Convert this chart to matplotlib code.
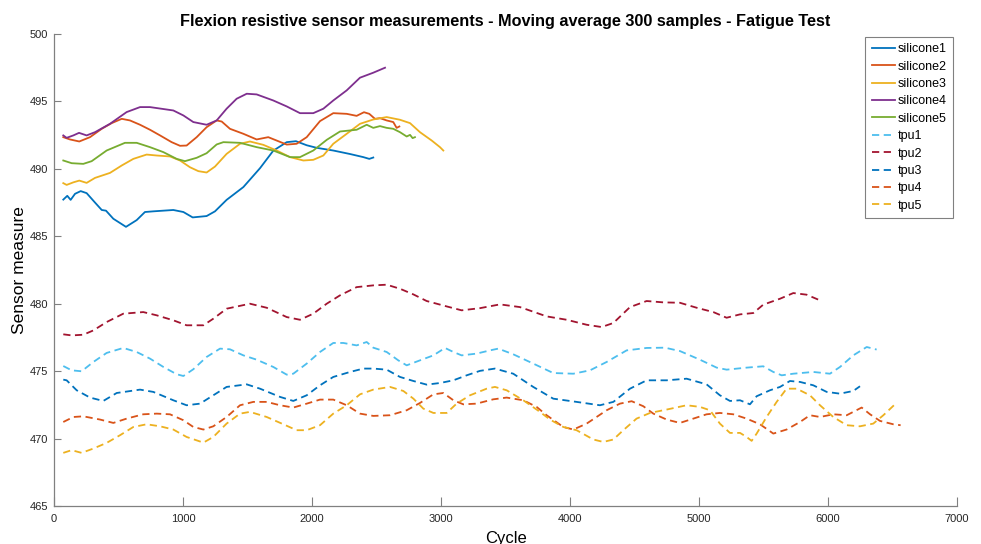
"""
Flexion resistive sensor - fatigue test, moving average of 300 samples.
Five silicone sensors (solid) and five TPU sensors (dashed).
"""

import matplotlib
matplotlib.use("Agg")
import matplotlib.pyplot as plt

# ---------------------------------------------------------------
# 1) DATA (read off the original plot)
# ---------------------------------------------------------------
silicone1_x = [72, 103, 129, 163, 207, 253, 318, 370, 403, 460, 558, 641, 705, 770, 925, 1003,
               1075, 1183, 1248, 1338, 1468, 1597, 1700, 1804, 1876, 1959, 2036, 2165, 2295,
               2398, 2444, 2475]
silicone1_y = [487.72, 488.0, 487.7, 488.15, 488.35, 488.2, 487.5, 486.95, 486.9, 486.3, 485.7,
               486.2, 486.8, 486.85, 486.95, 486.8, 486.4, 486.5, 486.85, 487.7, 488.65, 490.05,
               491.35, 491.98, 492.05, 491.75, 491.56, 491.36, 491.1, 490.87, 490.74, 490.84]

silicone2_x = [72, 124, 196, 279, 370, 447, 525, 589, 667, 744, 822, 912, 977, 1028, 1106, 1183,
               1261, 1300, 1364, 1468, 1571, 1661, 1726, 1804, 1881, 1959, 2062, 2165, 2269,
               2346, 2403, 2444, 2488, 2527, 2579, 2630, 2656, 2677]
silicone2_y = [492.35, 492.18, 492.03, 492.35, 492.97, 493.39, 493.71, 493.59, 493.27, 492.9,
               492.48, 491.98, 491.71, 491.73, 492.35, 493.09, 493.59, 493.51, 492.97, 492.6,
               492.18, 492.35, 492.1, 491.8, 491.86, 492.35, 493.54, 494.13, 494.08, 493.93,
               494.2, 494.08, 493.71, 493.76, 493.59, 493.47, 493.04, 493.14]

silicone3_x = [72, 98, 150, 196, 253, 318, 434, 525, 615, 718, 796, 899, 977, 1054, 1119, 1183,
               1248, 1338, 1442, 1519, 1623, 1726, 1830, 1933, 2010, 2088, 2165, 2269, 2372,
               2475, 2579, 2682, 2760, 2837, 2928, 2992, 3018]
silicone3_y = [488.94, 488.81, 489.0, 489.13, 488.96, 489.33, 489.7, 490.25, 490.74, 491.06,
               490.99, 490.92, 490.62, 490.12, 489.83, 489.73, 490.17, 491.11, 491.86, 492.03,
               491.78, 491.36, 490.87, 490.62, 490.67, 490.99, 491.86, 492.6, 493.34, 493.66,
               493.84, 493.64, 493.39, 492.72, 492.1, 491.61, 491.36]

silicone4_x = [72, 98, 150, 194, 253, 318, 434, 563, 667, 744, 925, 1003, 1080, 1183, 1261, 1338,
               1416, 1494, 1571, 1700, 1804, 1907, 2010, 2088, 2165, 2269, 2372, 2475, 2566]
silicone4_y = [492.48, 492.3, 492.48, 492.67, 492.48, 492.72, 493.34, 494.21, 494.58, 494.58,
               494.33, 493.96, 493.47, 493.27, 493.59, 494.46, 495.2, 495.57, 495.52, 495.07,
               494.63, 494.13, 494.13, 494.46, 495.07, 495.82, 496.76, 497.13, 497.5]

silicone5_x = [72, 137, 227, 292, 408, 550, 641, 744, 848, 951, 1015, 1106, 1183, 1261, 1313,
               1442, 1571, 1700, 1830, 1907, 2010, 2114, 2217, 2346, 2424, 2475, 2527, 2579,
               2630, 2682, 2734, 2760, 2780, 2798]
silicone5_y = [490.62, 490.42, 490.37, 490.57, 491.36, 491.93, 491.93, 491.61, 491.24, 490.74,
               490.57, 490.82, 491.16, 491.81, 491.98, 491.93, 491.61, 491.36, 490.87, 490.87,
               491.36, 492.15, 492.77, 492.9, 493.27, 493.04, 493.17, 493.04, 492.97, 492.72,
               492.4, 492.52, 492.28, 492.35]

tpu1_x = [72, 137, 214, 305, 408, 537, 641, 744, 848, 951, 1003, 1080, 1183, 1287, 1364, 1468,
          1571, 1700, 1804, 1855, 1959, 2062, 2165, 2243, 2346, 2424, 2475, 2579, 2669, 2734,
          2837, 2941, 3031, 3096, 3160, 3276, 3380, 3444, 3560, 3715, 3870, 4026, 4155, 4284,
          4439, 4594, 4736, 4852, 5007, 5137, 5214, 5369, 5498, 5576, 5641, 5731, 5886, 6015,
          6093, 6196, 6300, 6377]
tpu1_y = [475.38, 475.06, 474.99, 475.68, 476.35, 476.72, 476.42, 475.93, 475.31, 474.77, 474.64,
          475.14, 476.05, 476.67, 476.62, 476.17, 475.85, 475.31, 474.74, 474.81, 475.56, 476.42,
          477.09, 477.09, 476.91, 477.16, 476.74, 476.42, 475.8, 475.43, 475.8, 476.17, 476.72,
          476.42, 476.17, 476.3, 476.54, 476.67, 476.25, 475.56, 474.86, 474.81, 475.06, 475.68,
          476.54, 476.72, 476.74, 476.49, 475.85, 475.26, 475.11, 475.26, 475.36, 474.94, 474.69,
          474.81, 474.94, 474.81, 475.31, 476.17, 476.79, 476.6]

tpu2_x = [72, 137, 227, 305, 408, 537, 692, 796, 925, 1028, 1158, 1235, 1338, 1519, 1649, 1804,
          1907, 2010, 2114, 2217, 2346, 2475, 2579, 2682, 2786, 2889, 3044, 3160, 3302, 3457,
          3612, 3819, 3974, 4129, 4245, 4336, 4465, 4594, 4723, 4852, 4982, 5111, 5214, 5318,
          5421, 5498, 5628, 5731, 5834, 5938]
tpu2_y = [477.73, 477.65, 477.7, 478.02, 478.64, 479.26, 479.38, 479.14, 478.77, 478.4, 478.4,
          478.89, 479.63, 480.0, 479.7, 479.01, 478.81, 479.26, 480.0, 480.62, 481.23, 481.36,
          481.41, 481.11, 480.69, 480.2, 479.8, 479.51, 479.67, 479.95, 479.75, 479.06, 478.81,
          478.44, 478.27, 478.57, 479.75, 480.2, 480.1, 480.07, 479.7, 479.38, 478.96, 479.21,
          479.31, 479.93, 480.37, 480.79, 480.67, 480.25]

tpu3_x = [72, 98, 176, 279, 382, 486, 667, 770, 925, 1028, 1132, 1235, 1338, 1494, 1597, 1752,
          1855, 1959, 2062, 2165, 2295, 2398, 2475, 2579, 2682, 2786, 2889, 2992, 3096, 3199,
          3302, 3418, 3560, 3715, 3870, 4051, 4232, 4336, 4465, 4594, 4749, 4904, 5059, 5162,
          5240, 5318, 5395, 5447, 5550, 5628, 5705, 5783, 5886, 5990, 6093, 6196, 6248]
tpu3_y = [474.37, 474.32, 473.58, 473.04, 472.79, 473.38, 473.63, 473.46, 472.84, 472.47, 472.59,
          473.21, 473.83, 474.02, 473.7, 473.09, 472.79, 473.21, 473.95, 474.57, 474.94, 475.19,
          475.19, 475.11, 474.57, 474.27, 474.0, 474.12, 474.32, 474.69, 475.02, 475.19, 474.81,
          473.83, 472.96, 472.72, 472.47, 472.72, 473.7, 474.32, 474.32, 474.44, 474.02, 473.21,
          472.79, 472.84, 472.54, 473.14, 473.58, 473.83, 474.27, 474.2, 473.95, 473.46, 473.33,
          473.53, 473.88]

tpu4_x = [72, 150, 227, 357, 460, 563, 692, 796, 899, 1003, 1080, 1158, 1235, 1338, 1442, 1545,
          1649, 1752, 1855, 1959, 2062, 2165, 2269, 2372, 2475, 2605, 2734, 2837, 2941, 3018,
          3096, 3173, 3276, 3405, 3509, 3638, 3741, 3819, 3948, 4026, 4129, 4206, 4284, 4387,
          4478, 4568, 4646, 4749, 4852, 4956, 5059, 5162, 5266, 5369, 5473, 5576, 5679, 5783,
          5860, 5938, 6041, 6145, 6261, 6326, 6403, 6506, 6563]
tpu4_y = [471.23, 471.6, 471.65, 471.41, 471.16, 471.48, 471.8, 471.85, 471.8, 471.36, 470.86,
          470.67, 470.91, 471.6, 472.47, 472.72, 472.72, 472.47, 472.3, 472.59, 472.89, 472.89,
          472.47, 471.85, 471.68, 471.73, 472.1, 472.64, 473.28, 473.38, 472.84, 472.54, 472.59,
          472.91, 473.04, 472.84, 472.35, 471.73, 470.86, 470.67, 471.11, 471.6, 472.1, 472.59,
          472.77, 472.4, 471.85, 471.41, 471.16, 471.48, 471.8, 471.9, 471.8, 471.48, 471.06,
          470.37, 470.67, 471.23, 471.73, 471.6, 471.8, 471.73, 472.3, 471.8, 471.31, 471.06,
          470.99]

tpu5_x = [72, 137, 214, 305, 408, 512, 615, 718, 822, 925, 1028, 1158, 1235, 1338, 1442, 1519,
          1649, 1778, 1881, 1959, 2062, 2165, 2269, 2372, 2475, 2605, 2708, 2786, 2863, 2941,
          3044, 3121, 3225, 3354, 3418, 3509, 3638, 3767, 3845, 3948, 4051, 4181, 4258, 4336,
          4413, 4516, 4620, 4749, 4904, 5007, 5085, 5162, 5240, 5318, 5369, 5408, 5447, 5524,
          5602, 5679, 5757, 5860, 5938, 6041, 6145, 6248, 6351, 6429, 6519]
tpu5_y = [468.94, 469.14, 468.94, 469.26, 469.68, 470.25, 470.86, 471.06, 470.91, 470.67, 470.12,
          469.7, 470.12, 471.11, 471.85, 471.98, 471.6, 471.06, 470.62, 470.62, 470.99, 471.85,
          472.47, 473.28, 473.63, 473.83, 473.53, 472.96, 472.22, 471.9, 471.9, 472.59, 473.21,
          473.7, 473.83, 473.58, 472.84, 471.98, 471.41, 470.86, 470.62, 469.93, 469.75, 469.93,
          470.62, 471.48, 471.9, 472.15, 472.47, 472.35, 472.1, 471.11, 470.42, 470.42, 470.12,
          469.83, 470.37, 471.6, 472.72, 473.7, 473.7, 473.21, 472.47, 471.6, 470.99, 470.91,
          471.11, 471.73, 472.54]

labels = ['silicone1', 'silicone2', 'silicone3', 'silicone4', 'silicone5',
          'tpu1', 'tpu2', 'tpu3', 'tpu4', 'tpu5']

# MATLAB default colour order
colors = ['#0072BD', '#D95319', '#EDB120', '#7E2F8E', '#77AC30',
          '#4DBEEE', '#A2142F', '#0072BD', '#D95319', '#EDB120']

x_ticks = [0, 1000, 2000, 3000, 4000, 5000, 6000, 7000]
y_ticks = [465, 470, 475, 480, 485, 490, 495, 500]

series = [
    (silicone1_x, silicone1_y), (silicone2_x, silicone2_y), (silicone3_x, silicone3_y),
    (silicone4_x, silicone4_y), (silicone5_x, silicone5_y),
    (tpu1_x, tpu1_y), (tpu2_x, tpu2_y), (tpu3_x, tpu3_y), (tpu4_x, tpu4_y), (tpu5_x, tpu5_y),
]

# ---------------------------------------------------------------
# 2) PLOT
# ---------------------------------------------------------------
plt.rcParams['font.family'] = ['Liberation Sans', 'DejaVu Sans']

fig = plt.figure(figsize=(9.81, 5.44), dpi=100)
ax = fig.add_axes([54 / 981, 1 - 506 / 544, (957 - 54) / 981, (506 - 34) / 544])

for i, (xs, ys) in enumerate(series):
    style = '-' if i < 5 else '--'
    line, = ax.plot(xs, ys, style, color=colors[i], lw=1.3, label=labels[i])
    if i >= 5:
        line.set_dashes((4, 2.5))

ax.set_xlim(0, 7000)
ax.set_ylim(465, 500)
ax.set_xticks(x_ticks)
ax.set_yticks(y_ticks)

axis_grey = '#808080'
for side in ['top', 'right']:
    ax.spines[side].set_visible(False)
for side in ['left', 'bottom']:
    ax.spines[side].set_color(axis_grey)
    ax.spines[side].set_linewidth(0.9)
ax.tick_params(axis='both', direction='in', colors=axis_grey, labelcolor='#262626',
               labelsize=8)
ax.tick_params(axis='y', length=5, pad=4)
ax.tick_params(axis='x', length=6.5, pad=6)

ax.set_title('Flexion resistive sensor measurements - Moving average 300 samples - Fatigue Test',
             fontsize=11.7, fontweight='bold', pad=6)
ax.set_xlabel('Cycle', fontsize=12, labelpad=5)
ax.set_ylabel('Sensor measure', fontsize=12.5, labelpad=2)

# legend box sits in the top right corner, MATLAB style (square, grey edge)
leg = ax.legend(loc='upper right', bbox_to_anchor=(953 / 981, 1 - 37 / 544),
                bbox_transform=fig.transFigure, borderaxespad=0, fancybox=False,
                fontsize=9, handlelength=1.85, handletextpad=0.25, labelspacing=0.43,
                borderpad=0.5, framealpha=1)
leg.get_frame().set_edgecolor(axis_grey)
leg.get_frame().set_linewidth(0.8)

fig.savefig('out.png', dpi=100)
